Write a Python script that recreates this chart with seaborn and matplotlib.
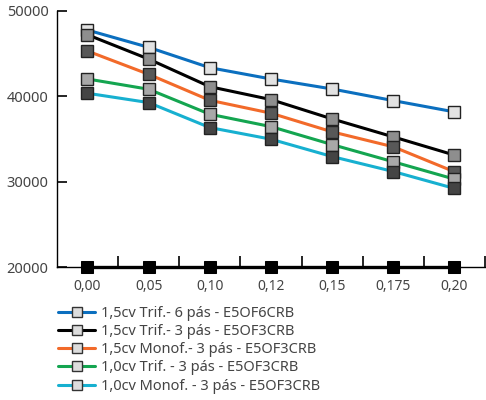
import numpy as np
import pandas as pd
import matplotlib
matplotlib.use("Agg")
import matplotlib.pyplot as plt
import seaborn as sns
from matplotlib.lines import Line2D

# dados
categorias = ["0,00", "0,05", "0,10", "0,12", "0,15", "0,175", "0,20"]
trif6_15 = [47750, 45730, 43350, 42030, 40860, 39500, 38180]
trif3_15 = [47200, 44360, 41130, 39620, 37360, 35260, 33130]
monof3_15 = [45300, 42580, 39540, 38030, 35850, 34100, 31180]
trif3_10 = [42030, 40830, 37910, 36460, 34360, 32350, 30320]
monof3_10 = [40360, 39270, 36350, 34990, 32960, 31210, 29230]
base = [20000, 20000, 20000, 20000, 20000, 20000, 20000]

nomes = ["1,5cv Trif.- 6 pás - E5OF6CRB",
         "1,5cv Trif.- 3 pás - E5OF3CRB",
         "1,5cv Monof.- 3 pás - E5OF3CRB",
         "1,0cv Trif. - 3 pás - E5OF3CRB",
         "1,0cv Monof. - 3 pás - E5OF3CRB"]
cores = ["#0b6fbf", "#000000", "#f26a2a", "#14a550", "#17b0d0"]
faces = ["#e2e2e2", "#8e8e8e", "#585858", "#a8a8a8", "#444444"]

sns.set_style("white")
plt.rcParams["font.family"] = ["Noto Sans", "DejaVu Sans"]

fig = plt.figure(figsize=(4.86, 4.0), dpi=100)
ax = fig.add_axes([0.117, 0.3315, 0.881, 0.6415])

x = np.arange(len(categorias))

# linha base preta
sns.lineplot(x=x, y=base, ax=ax, color="black", linewidth=2.4, marker="s",
             markersize=8, markerfacecolor="black", markeredgecolor="black",
             clip_on=False, zorder=3)

series = [trif6_15, trif3_15, monof3_15, trif3_10, monof3_10]
for vals, c, f in zip(series, cores, faces):
    sns.lineplot(x=x, y=vals, ax=ax, color=c, linewidth=2.2, marker="s",
                 markersize=8, markerfacecolor=f, markeredgecolor="#222222",
                 markeredgewidth=1.0, clip_on=False)

ax.set_xlim(-0.5, 6.5)
ax.set_ylim(20000, 50000)
ax.set_yticks([20000, 30000, 40000, 50000])
ax.set_xticks(x)
ax.set_xticklabels(categorias)
ax.set_xticks(np.arange(0.5, 7, 1.0), minor=True)

for s in ["top", "right"]:
    ax.spines[s].set_visible(False)
for s in ["left", "bottom"]:
    ax.spines[s].set_color("black")
    ax.spines[s].set_linewidth(1.0)
    ax.spines[s].set_zorder(0)

ax.tick_params(axis="y", direction="in", length=7, width=1.2, colors="black",
               labelcolor="#444444", labelsize=10.5, pad=6, left=True)
ax.tick_params(axis="x", which="both", bottom=True)
ax.tick_params(axis="x", which="major", length=0, labelcolor="#444444",
               labelsize=10, pad=8)
ax.tick_params(axis="x", which="minor", direction="in", length=8, width=1.2,
               colors="black")
ax.set_xlabel("")
ax.set_ylabel("")

handles = [Line2D([0], [0], color=c, linewidth=2.2, marker="s", markersize=6.5,
                  markerfacecolor="#dddddd", markeredgecolor="#333333")
           for c in cores]
fig.legend(handles, nomes, loc="upper left", bbox_to_anchor=(0.108, 0.25),
           frameon=False, fontsize=10.5, handlelength=2.5, handletextpad=0.4,
           labelspacing=0.22, labelcolor="#444444", borderaxespad=0)

fig.savefig("out.png", dpi=100)
